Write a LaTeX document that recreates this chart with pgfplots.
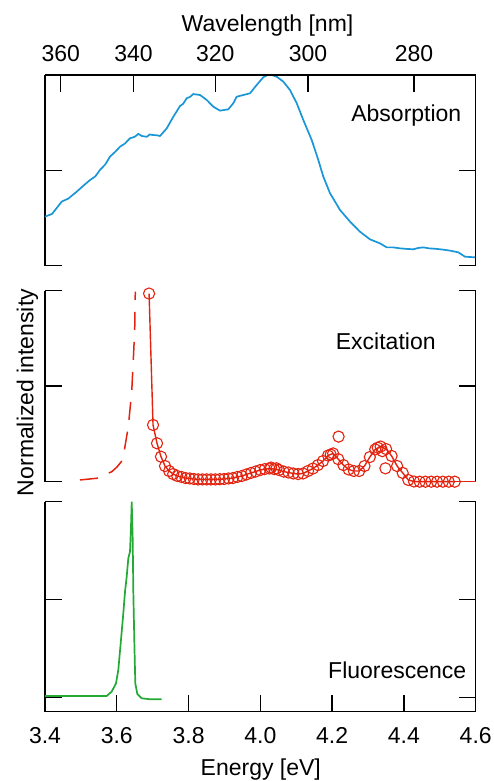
\documentclass[border=0pt]{standalone}
\usepackage{fontspec}
\setmainfont{Liberation Sans}
\usepackage{pgfplots}
\pgfplotsset{compat=1.18}

\definecolor{absblue}{RGB}{25,150,215}
\definecolor{excred}{RGB}{228,35,15}
\definecolor{flgreen}{RGB}{34,170,52}
\newcommand\ff{\fontsize{11.5}{14}\selectfont}

\pgfplotsset{
  panel/.style={
    scale only axis, width=215.35pt,
    xmin=3.4, xmax=4.6,
    anchor=south west,
    separate axis lines,
    every outer x axis line/.append style={draw=none},
    every outer y axis line/.append style={line width=0.7pt},
    tick style={line width=0.7pt, black},
    major tick length=8.6pt,
    tick align=inside,
    ytick={0,0.5,1}, yticklabels={}, ytick pos=both,
    tick label style={font=\ff},
    clip=false,
  },
}

\begin{document}
\ff
\begin{tikzpicture}
\useasboundingbox (0,0) rectangle (246.5pt,390.5pt);

% absorption
\begin{axis}[panel, at={(22.5pt,257.65pt)}, height=95.35pt,
  ymin=0, ymax=1,
  xtick={3.4440,3.6466,3.8745,4.1328,4.4280},
  xticklabels={360,340,320,300,280},
  xtick pos=right, xticklabel pos=right,
  xticklabel style={anchor=base, yshift=6.65pt}]
\addplot[absblue, line width=0.85pt] coordinates {
(3.400,0.257) (3.4200,0.272) (3.4465,0.336) (3.4650,0.352) (3.4883,0.388)
(3.5060,0.418) (3.5254,0.449) (3.5400,0.468) (3.5532,0.502) (3.5680,0.531)
(3.5811,0.572) (3.5950,0.596) (3.6090,0.624) (3.6230,0.641) (3.6368,0.668)
(3.6500,0.676) (3.6600,0.691) (3.6700,0.680) (3.6834,0.676) (3.6920,0.688)
(3.7018,0.685) (3.7120,0.684) (3.7204,0.680) (3.7391,0.720) (3.7575,0.781)
(3.7761,0.837) (3.7850,0.849) (3.7948,0.878) (3.8040,0.885) (3.8132,0.900)
(3.8319,0.895) (3.8505,0.869) (3.8689,0.834) (3.8876,0.813) (3.9107,0.820)
(3.9247,0.852) (3.9341,0.886) (3.9525,0.895) (3.9712,0.904) (3.9899,0.948)
(4.0083,0.988) (4.0200,1.000) (4.0317,1.000) (4.0456,0.991) (4.0640,0.965)
(4.0826,0.921) (4.1013,0.852) (4.1197,0.764) (4.1431,0.659) (4.1615,0.554)
(4.1754,0.467) (4.1941,0.380) (4.2220,0.292) (4.2498,0.231) (4.2777,0.178)
(4.3056,0.138) (4.3334,0.117) (4.3521,0.096) (4.3700,0.096) (4.3891,0.091)
(4.4080,0.088) (4.4262,0.086) (4.4400,0.093) (4.4541,0.096) (4.4700,0.091)
(4.4914,0.088) (4.5100,0.084) (4.5285,0.079) (4.5516,0.070) (4.5703,0.047)
(4.5981,0.044)
};
\draw[line width=0.7pt] (rel axis cs:0,1) -- (rel axis cs:1,1);
\end{axis}

% excitation
\begin{axis}[panel, at={(22.5pt,149.65pt)}, height=95.5pt,
  ymin=0, ymax=1, xtick=\empty]
\addplot[excred, line width=0.75pt, dash pattern=on 9pt off 6pt] coordinates {
(3.4975,0.009) (3.5440,0.018) (3.5858,0.052) (3.6006,0.077) (3.6165,0.114)
(3.6321,0.288) (3.6416,0.471) (3.6460,0.637) (3.6499,0.794) (3.6516,0.995)
};
\addplot[excred, line width=0.7pt, mark=o, mark size=2.8pt,
  mark options={line width=0.55pt}] coordinates {
(3.6900,0.985) (3.7010,0.297) (3.7121,0.201) (3.7232,0.131) (3.7344,0.082)
(3.7457,0.056) (3.7571,0.040) (3.7685,0.030) (3.7800,0.025) (3.7916,0.019)
(3.8032,0.017) (3.8149,0.014) (3.8267,0.012) (3.8385,0.012) (3.8504,0.012)
(3.8624,0.012) (3.8745,0.012) (3.8867,0.013) (3.8989,0.014) (3.9112,0.017)
(3.9235,0.019) (3.9360,0.025) (3.9485,0.030) (3.9612,0.038) (3.9739,0.046)
(3.9866,0.053) (3.9995,0.061) (4.0124,0.066) (4.0255,0.069) (4.0386,0.066)
(4.0518,0.061) (4.0651,0.053) (4.0784,0.048) (4.0919,0.043) (4.1054,0.040)
(4.1191,0.043) (4.1328,0.056) (4.1466,0.069) (4.1605,0.087) (4.1745,0.108)
(4.1886,0.137) (4.2028,0.148) (4.2171,0.118) (4.2315,0.087) (4.2460,0.064)
(4.2606,0.056) (4.2753,0.056) (4.2901,0.082) (4.3050,0.129) (4.3200,0.169)
(4.3351,0.184) (4.3503,0.171) (4.3656,0.135) (4.3811,0.082) (4.3966,0.046)
(4.4123,0.009) (4.4280,0.001) (4.4439,0.000) (4.4599,0.000) (4.4760,0.000)
(4.4922,0.000) (4.5085,0.000) (4.5250,0.000) (4.5416,0.000)
};
\addplot[excred, only marks, mark=o, mark size=2.8pt,
  mark options={line width=0.55pt}] coordinates {
(4.2180,0.236) (4.3485,0.070) (4.3400,0.160) (4.3270,0.178) (4.1960,0.142)
(4.0300,0.074) (4.0450,0.070)
};
\addplot[excred, line width=0.7pt] coordinates {(4.5416,0.000) (4.6,0.000)};
\end{axis}

% fluorescence
\begin{axis}[panel, at={(22.5pt,34.65pt)}, height=105pt,
  ymin=-0.0714, ymax=1,
  xtick={3.4,3.6,3.8,4.0,4.2,4.4,4.6},
  xticklabels={3.4,3.6,3.8,4.0,4.2,4.4,4.6},
  xtick pos=left, xticklabel pos=left,
  xticklabel style={anchor=base, yshift=-15.8pt}]
\addplot[flgreen, line width=0.85pt] coordinates {
(3.400,0.009) (3.5719,0.009) (3.5858,0.031) (3.5978,0.073) (3.6042,0.141)
(3.6109,0.278) (3.6182,0.431) (3.6229,0.541) (3.6276,0.617) (3.6321,0.711)
(3.6368,0.745) (3.6396,0.872) (3.6416,1.000) (3.6444,0.805) (3.6460,0.549)
(3.6488,0.294) (3.6516,0.073) (3.6572,0.019) (3.6694,-0.003) (3.6925,-0.008)
(3.7252,-0.008)
};
\draw[line width=0.7pt] (rel axis cs:0,0) -- (rel axis cs:1,0);
\end{axis}

\node[anchor=base] at (133.75pt,374.65pt) {Wavelength [nm]};
\node[anchor=base] at (130.4pt,2.5pt) {Energy [eV]};
\node[anchor=base, rotate=90] at (16.65pt,194.25pt) {Normalized intensity};
\node[anchor=base east, inner sep=0pt] at (230.85pt,329.7pt) {Absorption};
\node[anchor=base east, inner sep=0pt] at (218pt,215.5pt) {Excitation};
\node[anchor=base east, inner sep=0pt] at (233.35pt,51.35pt) {Fluorescence};
\end{tikzpicture}
\end{document}
